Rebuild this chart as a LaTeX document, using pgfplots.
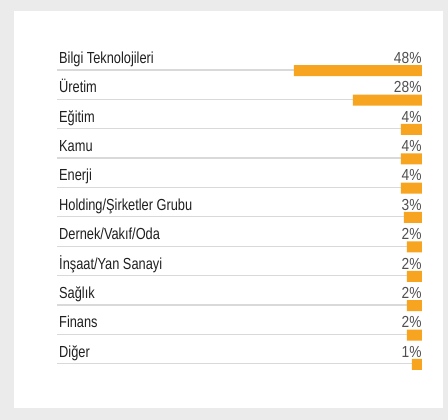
\documentclass[border=0pt]{standalone}
\usepackage{fontspec}
\setmainfont[FakeStretch=0.8]{Liberation Sans}
\newfontfamily\pctfont[FakeStretch=0.86]{Liberation Sans}
\usepackage{pgfplots}
\usepackage{pgfplotstable}
\pgfplotsset{compat=1.18}
\definecolor{bg}{HTML}{EBEBEB}
\definecolor{barorange}{HTML}{F7A520}
\definecolor{sep}{HTML}{D9D9D9}
\definecolor{labtxt}{HTML}{1F1F1F}
\definecolor{pcttxt}{HTML}{505050}
\pgfplotstableread[col sep=comma]{
y,len,pct,label
70.7,128,48,Bilgi Teknolojileri
100.1,69,28,Üretim
129.4,21,4,Eğitim
158.8,21,4,Kamu
188.2,21,4,Enerji
217.5,18,3,Holding/Şirketler Grubu
246.9,15,2,Dernek/Vakıf/Oda
276.3,15,2,İnşaat/Yan Sanayi
305.7,15,2,Sağlık
335.1,15,2,Finans
364.5,10,1,Diğer
}\data
\begin{document}
\begin{tikzpicture}
\fill[bg] (0pt,0pt) rectangle (448pt,420pt);
\fill[white] (14pt,12pt) rectangle (443pt,409pt);
\begin{axis}[
  at={(0pt,0pt)}, anchor=south west,
  scale only axis, width=448pt, height=420pt,
  xmin=-26, xmax=422, ymin=0, ymax=420,
  x dir=reverse, y dir=reverse,
  hide axis, clip=false,
]
% separator lines
\addplot[xcomb, draw=sep, line width=1.2pt, mark=none]
  table[x expr=365, y expr=\thisrow{y}-0.7] {\data};
% bars
\addplot[xbar, bar width=11pt, fill=barorange, draw=none, bar shift=0pt]
  table[x=len, y=y] {\data};
% category labels
\addplot[draw=none, mark=none, nodes near coords, point meta=explicit symbolic,
  nodes near coords style={anchor=base west, inner sep=0pt, text=labtxt,
    font=\fontsize{16}{19}\selectfont}]
  table[x expr=363, y expr=\thisrow{y}-7.2, meta=label] {\data};
% percentages
\addplot[draw=none, mark=none, nodes near coords={\pgfplotspointmeta\%}, point meta=explicit symbolic,
  nodes near coords style={anchor=base east, inner sep=0pt, text=pcttxt,
    font=\pctfont\fontsize{16}{19}\selectfont}]
  table[x expr=0.3, y expr=\thisrow{y}-7.2, meta=pct] {\data};
\end{axis}
\end{tikzpicture}
\end{document}
